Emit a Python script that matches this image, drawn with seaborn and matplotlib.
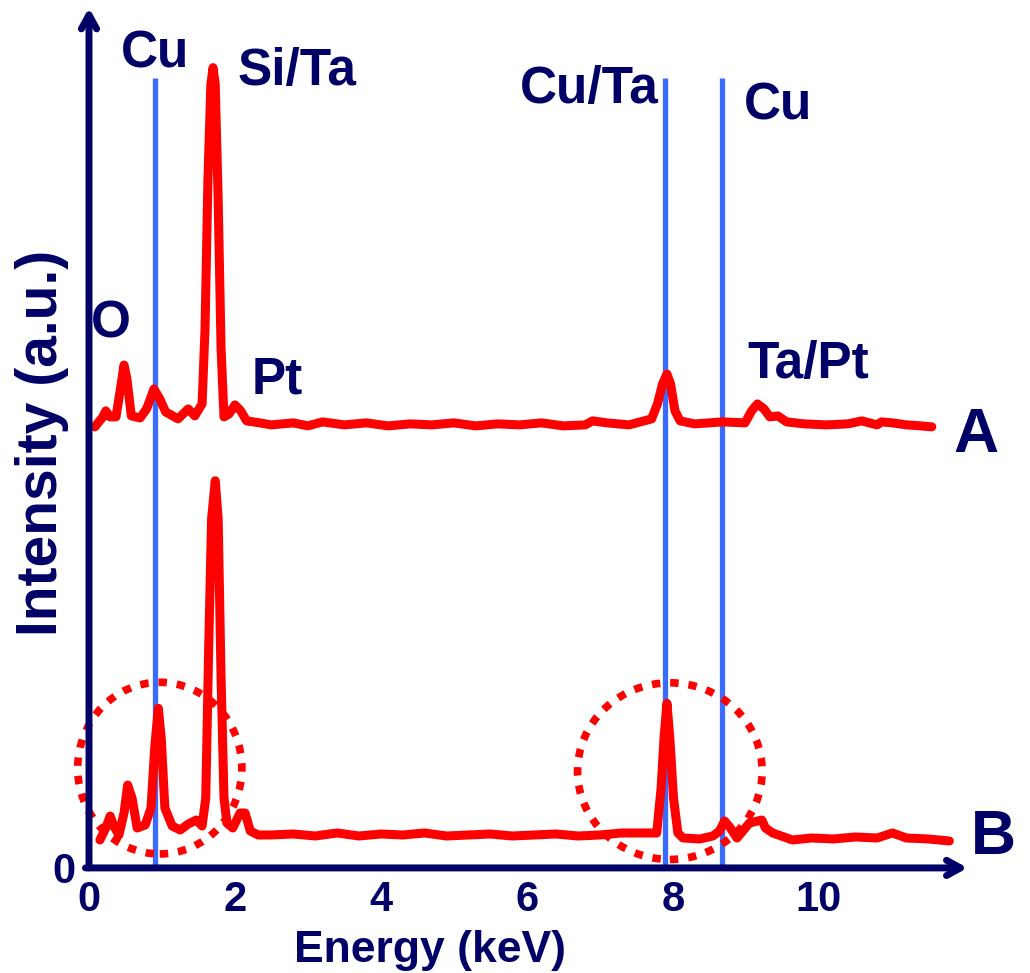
import numpy as np
import pandas as pd
import matplotlib
matplotlib.use("Agg")
import matplotlib.pyplot as plt
from matplotlib.patches import Ellipse
import seaborn as sns

sns.set_style("white")
plt.rcParams['font.family'] = ['Liberation Sans', 'DejaVu Sans']
plt.rcParams['font.weight'] = 'bold'

navy = "#000066"
red = "#ff0000"
blue = "#3a6bff"

# spectrum A (upper trace), energy in keV / intensity in a.u.
energy_a = [0.08, 0.19, 0.23, 0.29, 0.37, 0.42, 0.48, 0.52, 0.58, 0.70, 0.79, 0.89, 0.97, 1.05,
            1.22, 1.36, 1.45, 1.55, 1.59, 1.63, 1.67, 1.70, 1.73, 1.77, 1.81, 1.85, 1.92, 2.00,
            2.08, 2.16, 2.34, 2.5, 2.8, 3.0, 3.2, 3.5, 3.8, 4.1, 4.4, 4.7, 5.0, 5.3, 5.6, 5.9,
            6.2, 6.5, 6.8, 6.9, 7.1, 7.4, 7.71, 7.79, 7.86, 7.92, 7.97, 8.03, 8.10, 8.3, 8.5,
            8.68, 8.99, 9.08, 9.16, 9.25, 9.33, 9.44, 9.56, 9.8, 10.1, 10.4, 10.59, 10.8, 10.86,
            11.01, 11.2, 11.4, 11.55]
counts_a = [442, 452, 458, 452, 452, 475, 504, 490, 453, 451, 460, 480, 470, 457,
            450, 460, 453, 465, 540, 690, 785, 802, 785, 670, 520, 452, 455, 464,
            458, 448, 446, 444, 446, 443, 447, 444, 446, 443, 445, 444, 446, 443, 445, 444,
            446, 443, 444, 448, 446, 444, 450, 465, 485, 495, 485, 458, 448, 445, 446,
            447, 446, 458, 465, 460, 452, 453, 447, 445, 444, 445, 448, 444, 447,
            446, 444, 443, 442]

# spectrum B (lower trace)
energy_b = [0.15, 0.23, 0.29, 0.34, 0.41, 0.48, 0.53, 0.59, 0.66, 0.77, 0.85, 0.90, 0.95, 0.99,
            1.04, 1.14, 1.25, 1.36, 1.47, 1.55, 1.60, 1.64, 1.68, 1.73, 1.77, 1.81, 1.85, 1.89,
            1.97, 2.07, 2.14, 2.21, 2.32, 2.5, 2.8, 3.1, 3.4, 3.7, 4.0, 4.3, 4.6, 4.9, 5.2, 5.5,
            5.8, 6.1, 6.4, 6.7, 7.0, 7.3, 7.78, 7.84, 7.88, 7.92, 7.96, 8.01, 8.07, 8.14, 8.37,
            8.55, 8.64, 8.71, 8.79, 8.88, 8.96, 9.05, 9.22, 9.27, 9.37, 9.64, 9.9, 10.2, 10.5,
            10.8, 11.01, 11.2, 11.5, 11.79]
counts_b = [28, 40, 52, 42, 33, 55, 83, 70, 40, 43, 60, 120, 160, 130,
            60, 42, 38, 44, 48, 42, 70, 220, 350, 388, 350, 190, 70, 45,
            40, 55, 55, 37, 33, 33, 34, 32, 35, 32, 34, 33, 35, 32, 33, 34,
            32, 33, 34, 32, 33, 35, 35, 80, 130, 165, 130, 70, 35, 30, 29,
            32, 37, 47, 40, 30, 37, 45, 48, 40, 35, 28, 30, 29, 31,
            30, 35, 30, 29, 27]

cu_lines = [0.9, 7.9, 8.68]

peak_labels = ["Cu", "Si/Ta", "O", "Pt", "Cu/Ta", "Cu", "Ta/Pt"]
label_energy = [0.9, 2.85, 0.3, 2.58, 6.86, 9.44, 9.85]
label_height = [816, 798, 545, 489, 780, 764, 505]

df = pd.concat([
    pd.DataFrame({"energy": energy_a, "counts": counts_a, "spectrum": "A"}),
    pd.DataFrame({"energy": energy_b, "counts": counts_b, "spectrum": "B"}),
])

fig = plt.figure(figsize=(10.30, 9.73), dpi=100)
ax = fig.add_axes([0.0864, 0.1080, 0.853, 0.884])

for x in cu_lines:
    ax.vlines(x, 0, 792, color=blue, lw=3.8, zorder=1)

sns.lineplot(data=df, x="energy", y="counts", units="spectrum", estimator=None,
             sort=False, color=red, lw=6.5, ax=ax, zorder=3,
             solid_joinstyle="round", solid_capstyle="round")

# dotted circles round the Cu peaks of spectrum B
for cx, cy, w, h in [(0.97, 100, 2.25, 172), (7.96, 97, 2.53, 177)]:
    ax.add_patch(Ellipse((cx, cy), w, h, fill=False, ec=red, lw=5.5,
                         ls=(0, (1.1, 1.3)), zorder=2, clip_on=False))

ax.set_xlim(0, 12.04)
ax.set_ylim(0, 862)
for s in ax.spines.values():
    s.set_visible(False)

arrow = dict(arrowstyle="->,head_length=1.0,head_width=0.55", lw=5, color=navy,
             shrinkA=0, shrinkB=0, joinstyle="round", capstyle="round")
ax.annotate("", xy=(1, 0), xytext=(-0.004, 0), xycoords="axes fraction", arrowprops=arrow)
ax.annotate("", xy=(0, 1), xytext=(0, 0), xycoords="axes fraction", arrowprops=arrow)

ax.set_xticks([0, 2, 4, 6, 8, 10])
ax.set_yticks([0])
ax.tick_params(axis="x", direction="out", length=7, width=3, color="black",
               labelsize=30, labelcolor=navy, pad=2)
ax.tick_params(axis="y", length=0, labelsize=30, labelcolor=navy, pad=10)
for t in ax.get_xticklabels() + ax.get_yticklabels():
    t.set_fontweight("bold")

ax.set_xlabel("")
ax.set_ylabel("")
fig.text(430 / 1030, 1 - 971 / 973, "Energy (keV)", ha="center", va="bottom",
         fontsize=32, color=navy, fontweight="bold")
fig.text(42 / 1030, 1 - 443 / 973, "Intensity (a.u.)", ha="center", va="center",
         rotation=90, fontsize=41, color=navy, fontweight="bold")

for lab, x, y in zip(peak_labels, label_energy, label_height):
    ax.text(x, y, lab, ha="center", va="center", fontsize=37, color=navy,
            fontweight="bold", clip_on=False)

ax.text(12.16, 433, "A", ha="center", va="center", fontsize=45, color=navy,
        fontweight="bold", clip_on=False)
ax.text(12.4, 30, "B", ha="center", va="center", fontsize=45, color=navy,
        fontweight="bold", clip_on=False)

fig.savefig("out.png", dpi=100)
